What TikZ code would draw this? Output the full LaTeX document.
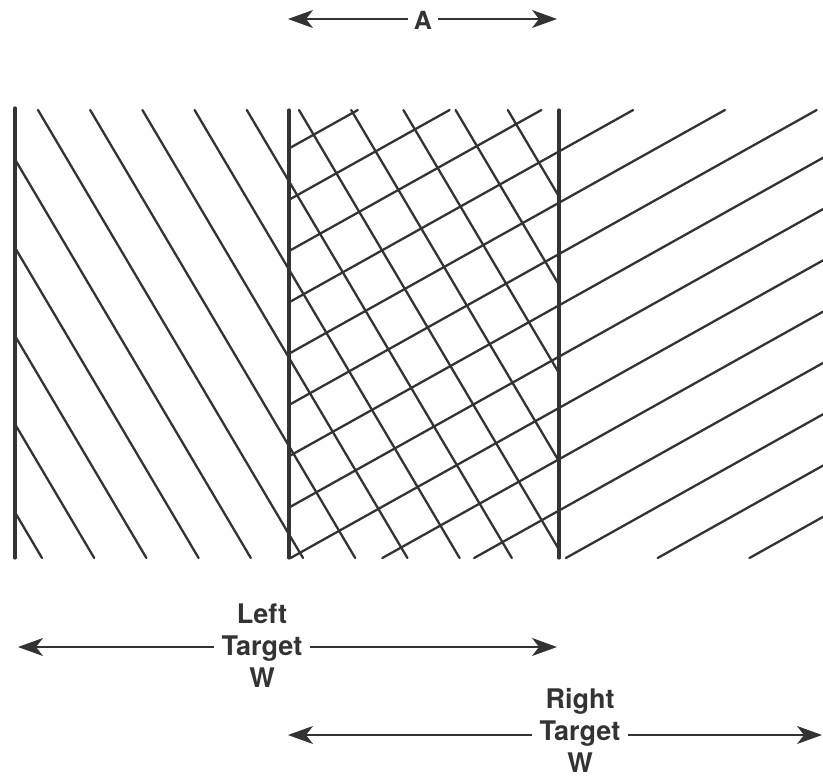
\documentclass[tikz,border=0pt]{standalone}
\usepackage{fontspec}
\setmainfont{TeX Gyre Heros}
\usetikzlibrary{arrows.meta}
\definecolor{ink}{HTML}{333333}
\tikzset{
  hatch/.style={draw=ink, line width=2.3pt, line cap=round},
  wall/.style={draw=ink, line width=3.2pt, line cap=round},
  dim/.style={draw=ink, line width=1.3pt, -{Stealth[length=25pt,width=18pt,inset=7pt]}},
  lbl/.style={font=\fontsize{27}{32}\selectfont\bfseries, align=center, inner sep=7pt, text=ink},
}
\begin{document}
\begin{tikzpicture}[x=1pt,y=-1pt]
\useasboundingbox (0,0) rectangle (823,777);

% left target hatching (\ direction), spans 15..559
\begin{scope}
  \clip (15,100) rectangle (559,570);
  \foreach \k in {-6,...,9} {
    \draw[hatch] ({38+52.2*\k},110) -- ({38+52.2*\k+265},558);
  }
\end{scope}

% right target hatching (/ direction), spans 289..823
\begin{scope}
  \clip (289,100) rectangle (823,570);
  \foreach \n in {0,...,13} {
    \pgfmathsetmacro{\c}{310+51.3*\n}
    \draw[hatch] ({(\c-558)/0.559},558) -- ({(\c-110)/0.559},110);
  }
\end{scope}

% target boundaries
\draw[wall] (15,108) -- (15,558);
\draw[wall] (289,110) -- (289,558);
\draw[wall] (559,110) -- (559,558);

% A dimension
\node[lbl, font=\fontsize{25}{30}\selectfont\bfseries, inner sep=6pt] (a) at (423,20) {A};
\coordinate (al) at (288,19);
\coordinate (ar) at (557,19);
\draw[dim] (a.west |- al) -- (al);
\draw[dim] (a.east |- ar) -- (ar);

% Left target
\node[lbl] (lt) at (262,646) {Left\\Target\\W};
\coordinate (ltl) at (18,647);
\coordinate (ltr) at (557,647);
\draw[dim] (lt.west |- ltl) -- (ltl);
\draw[dim] (lt.east |- ltr) -- (ltr);

% Right target
\node[lbl] (rt) at (580,730) {Right\\Target\\W};
\coordinate (rtl) at (288,735);
\coordinate (rtr) at (822,735);
\draw[dim] (rt.west |- rtl) -- (rtl);
\draw[dim] (rt.east |- rtr) -- (rtr);
\end{tikzpicture}
\end{document}
